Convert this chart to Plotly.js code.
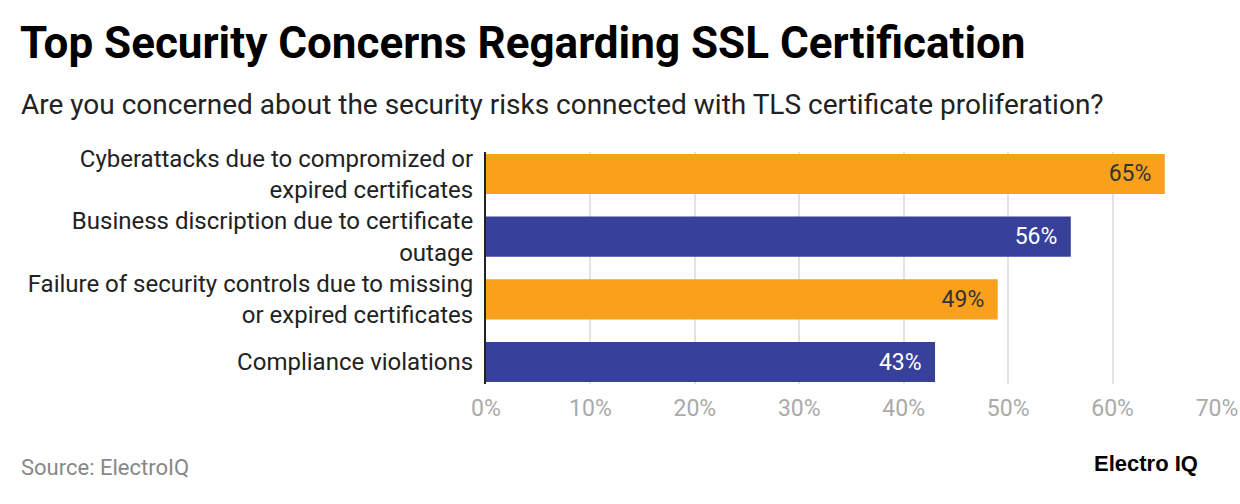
<!DOCTYPE html>
<html>
<head>
<meta charset="utf-8">
<script src="https://cdn.plot.ly/plotly-3.0.1.min.js"></script>
<style>html,body{margin:0;padding:0;background:#fff;}#chart{width:1240px;height:504px;}</style>
</head>
<body>
<div id="chart"></div>
<script>
const categories = [
  "Cyberattacks due to compromized or<br>expired certificates",
  "Business discription due to certificate<br>outage",
  "Failure of security controls due to missing<br>or expired certificates",
  "Compliance violations"
];
const values = [65, 56, 49, 43];
const barColors = ["#F9A11B", "#37419A", "#F9A11B", "#37419A"];
const labelColors = ["#333333", "#ffffff", "#333333", "#ffffff"];
const tickVals = [0, 10, 20, 30, 40, 50, 60, 70];
const tickText = ["0%", "10%", "20%", "30%", "40%", "50%", "60%", "70%"];

const L = 486, R = 1217, T = 152, B = 384;
const W = R - L, H = B - T;
const px = x => (x - L) / W;
const py = y => (B - y) / H;

const trace = {
  type: "bar",
  orientation: "h",
  y: categories,
  x: values,
  marker: {color: barColors},
  texttemplate: "%{x}%\u00a0\u2009",
  textposition: "inside",
  insidetextanchor: "end",
  textfont: {family: "Roboto", size: 23, color: labelColors},
  hoverinfo: "skip",
  cliponaxis: false
};

const layout = {
  width: 1240, height: 504,
  margin: {l: L, r: 1240 - R, t: T, b: 504 - B, pad: 0},
  paper_bgcolor: "#ffffff",
  plot_bgcolor: "#ffffff",
  font: {family: "Roboto", color: "#222"},
  showlegend: false,
  bargap: 0.36,
  title: {
    text: "<b>Top Security Concerns Regarding SSL Certification</b>",
    font: {family: "Roboto", size: 44, color: "#000"},
    x: 20 / 1240, xanchor: "left", xref: "container",
    y: 1 - 43 / 504, yanchor: "middle", yref: "container"
  },
  xaxis: {
    range: [0, 70],
    tickvals: tickVals,
    ticktext: tickText,
    showgrid: true,
    gridcolor: "#e3e3e3",
    gridwidth: 2,
    zeroline: false,
    showline: false,
    ticks: "",
    ticklabelstandoff: 8,
    tickfont: {family: "Roboto", size: 23, color: "#aaaaaa"},
    fixedrange: true
  },
  yaxis: {
    type: "category",
    autorange: false,
    range: [3.35, -0.35],
    showgrid: false,
    zeroline: false,
    showline: true,
    linecolor: "#222",
    linewidth: 2,
    ticks: "outside",
    ticklen: 6,
    tickcolor: "rgba(0,0,0,0)",
    tickfont: {family: "Roboto", size: 24, color: "#222"},
    fixedrange: true
  },
  annotations: [
    {
      text: "Are you concerned about the security risks connected with TLS certificate proliferation?",
      xref: "paper", yref: "paper", x: px(19), y: py(105),
      xanchor: "left", yanchor: "middle", showarrow: false,
      font: {family: "Roboto", size: 28, color: "#222"}
    },
    {
      text: "Source: ElectroIQ",
      xref: "paper", yref: "paper", x: px(19), y: py(467),
      xanchor: "left", yanchor: "middle", showarrow: false,
      font: {family: "Roboto", size: 22, color: "#888"}
    },
    {
      text: "<b>Electro IQ</b>",
      xref: "paper", yref: "paper", x: px(1092), y: py(463),
      xanchor: "left", yanchor: "middle", showarrow: false,
      font: {family: "Liberation Sans", size: 22, color: "#000"}
    }
  ]
};

Plotly.newPlot("chart", [trace], layout, {displayModeBar: false, staticPlot: true});
</script>
</body>
</html>
